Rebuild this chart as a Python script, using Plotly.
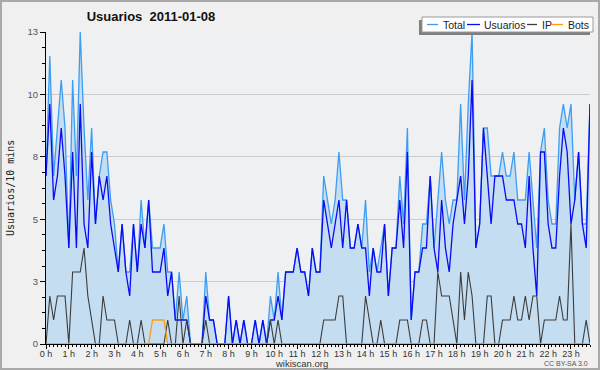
import plotly.graph_objects as go

# ---- data (10-minute intervals, 2011-01-08) ----
usuarios = [7, 10, 6, 7, 9, 7, 4, 8, 4, 10, 5, 4, 8, 5, 7, 6, 7, 5, 4, 3, 5, 3, 2, 5,
            3, 5, 4, 6, 3, 3, 3, 4, 2, 3, 1, 1, 1, 1, 0, 0, 0, 0, 2, 1, 1, 0, 0, 0,
            2, 0, 1, 0, 1, 0, 0, 1, 0, 1, 0, 1, 1, 2, 1, 3, 3, 3, 4, 3, 3, 2, 4, 3,
            3, 6, 5, 4, 5, 6, 4, 6, 4, 4, 5, 4, 4, 2, 4, 3, 3, 5, 2, 4, 4, 6, 4, 8,
            1, 3, 3, 4, 4, 7, 4, 3, 6, 4, 3, 5, 6, 7, 5, 7, 11, 4, 5, 9, 7, 5, 7, 7,
            7, 6, 6, 6, 5, 5, 4, 7, 4, 2, 8, 8, 5, 4, 4, 7, 9, 8, 5, 6, 8, 5, 4, 10]
ip = [0, 2, 1, 2, 2, 2, 0, 3, 3, 3, 4, 2, 1, 0, 0, 2, 1, 1, 1, 0, 0, 0, 1, 0,
      0, 1, 0, 0, 0, 0, 0, 0, 1, 0, 0, 2, 0, 1, 0, 0, 0, 0, 1, 0, 0, 0, 0, 0,
      0, 0, 0, 0, 0, 0, 0, 0, 0, 0, 0, 1, 0, 1, 0, 0, 0, 0, 0, 0, 0, 0, 0, 0,
      0, 1, 1, 1, 1, 2, 2, 0, 0, 0, 0, 0, 2, 1, 0, 0, 1, 0, 0, 0, 0, 1, 1, 1,
      0, 0, 0, 1, 1, 0, 0, 3, 2, 2, 2, 1, 0, 3, 1, 3, 2, 0, 0, 0, 2, 2, 0, 0,
      1, 1, 1, 2, 1, 1, 2, 1, 2, 2, 0, 1, 1, 1, 1, 2, 1, 1, 5, 0, 0, 0, 1, 0]
bots = [0, 0, 0, 0, 0, 0, 0, 0, 0, 0, 0, 0, 0, 0, 0, 0, 0, 0, 0, 0, 0, 0, 0, 0,
        0, 0, 0, 0, 1, 1, 1, 1, 0, 0, 0, 0, 0, 0, 0, 0, 0, 0, 0, 0, 0, 0, 0, 0,
        0, 0, 0, 0, 0, 0, 0, 0, 0, 0, 0, 0, 0, 0, 0, 0, 0, 0, 0, 0, 0, 0, 0, 0,
        0, 0, 0, 0, 0, 0, 0, 0, 0, 0, 0, 0, 0, 0, 0, 0, 0, 0, 0, 0, 0, 0, 0, 0,
        0, 0, 0, 0, 0, 0, 0, 0, 0, 0, 0, 0, 0, 0, 0, 0, 0, 0, 0, 0, 0, 0, 0, 0,
        0, 0, 0, 0, 0, 0, 0, 0, 0, 0, 0, 0, 0, 0, 0, 0, 0, 0, 0, 0, 0, 0, 0, 0]
total = [7, 12, 7, 9, 11, 9, 4, 11, 7, 13, 9, 6, 9, 5, 7, 8, 8, 6, 5, 3, 5, 3, 3, 5,
         3, 6, 4, 6, 4, 4, 4, 5, 3, 3, 1, 3, 1, 2, 0, 0, 0, 0, 3, 1, 1, 0, 0, 0,
         2, 0, 1, 0, 1, 0, 0, 1, 0, 1, 0, 2, 1, 3, 1, 3, 3, 3, 4, 3, 3, 2, 4, 3,
         3, 7, 6, 5, 6, 8, 6, 6, 4, 4, 5, 4, 6, 3, 4, 3, 4, 5, 2, 4, 4, 7, 5, 9,
         1, 3, 3, 5, 5, 7, 4, 6, 8, 6, 5, 6, 6, 10, 6, 10, 13, 4, 5, 9, 9, 7, 7, 7,
         8, 7, 7, 8, 6, 6, 6, 8, 6, 4, 8, 9, 6, 5, 5, 9, 10, 9, 10, 6, 8, 5, 5, 10]

hour_labels = [f"{h} h" for h in range(24)]
y_tick_labels = ["0", "3", "5", "8", "10", "13"]
series_names = ["Total", "Usuarios", "IP", "Bots"]

# ---- styling ----
C_TOTAL = "#3d9df2"
C_USER = "#0a0af5"
C_IP = "#3c3c3c"
C_BOTS = "#ff9a10"
FILL = "rgb(197,221,241)"

t = [i / 6 for i in range(len(total))]
y_ticks = [13 * k / 5 for k in range(6)]

W, H = 600, 370
L, R, T, B = 46, 10, 32, 26
PW, PH = W - L - R, H - T - B


def px(x):
    return (x - L) / PW


def py(y):
    return (H - B - y) / PH


fig = go.Figure()
fig.add_trace(go.Scatter(x=t, y=total, name=series_names[0], mode="lines",
                         line=dict(color=C_TOTAL, width=1.3),
                         fill="tozeroy", fillcolor=FILL, showlegend=False))
fig.add_trace(go.Scatter(x=t, y=usuarios, name=series_names[1], mode="lines",
                         line=dict(color=C_USER, width=1.3), showlegend=False))
fig.add_trace(go.Scatter(x=t, y=ip, name=series_names[2], mode="lines",
                         line=dict(color=C_IP, width=1.1), showlegend=False))
fig.add_trace(go.Scatter(x=t, y=bots, name=series_names[3], mode="lines",
                         line=dict(color=C_BOTS, width=1.3), showlegend=False))

shapes = []
annotations = []

# outer frame
shapes.append(dict(type="rect", xref="paper", yref="paper",
                   x0=px(1), x1=px(599), y0=py(369), y1=py(1),
                   line=dict(color="#a9a9a9", width=2), fillcolor="rgba(0,0,0,0)",
                   layer="above"))

# legend (drawn manually to match compact layout)
shapes.append(dict(type="rect", xref="paper", yref="paper",
                   x0=px(419), x1=px(590), y0=py(35), y1=py(20),
                   line=dict(width=0), fillcolor="#7f7f7f", layer="above"))
shapes.append(dict(type="rect", xref="paper", yref="paper",
                   x0=px(422), x1=px(593), y0=py(32), y1=py(17),
                   line=dict(color="#9a9a9a", width=1), fillcolor="white", layer="above"))
leg_lines = [(427, 438, C_TOTAL), (467, 480, C_USER), (527, 537, C_IP), (552, 563, C_BOTS)]
leg_text_x = [442, 483, 541, 567]
for (a, b, c), tx, name in zip(leg_lines, leg_text_x, series_names):
    shapes.append(dict(type="line", xref="paper", yref="paper",
                       x0=px(a), x1=px(b), y0=py(24.5), y1=py(24.5),
                       line=dict(color=c, width=1.3), layer="above"))
    annotations.append(dict(text=name, xref="paper", yref="paper",
                            x=px(tx), y=py(24.5), xanchor="left", yanchor="middle",
                            showarrow=False, borderpad=0,
                            font=dict(family="Liberation Sans", size=10.5, color="#222")))

# y-axis title
annotations.append(dict(text="Usuarios/10 mins", xref="paper", yref="paper",
                        x=px(10), y=py(188), textangle=-90, showarrow=False,
                        xanchor="center", yanchor="middle",
                        font=dict(family="DejaVu Sans Mono", size=10, color="#222")))
# footer texts
annotations.append(dict(text="wikiscan.org", xref="paper", yref="paper",
                        x=px(301), y=py(363), showarrow=False, borderpad=0,
                        xanchor="center", yanchor="middle",
                        font=dict(family="Liberation Sans", size=9.5, color="#333")))
annotations.append(dict(text="CC BY-SA 3.0", xref="paper", yref="paper",
                        x=px(589), y=py(363.5), showarrow=False, borderpad=0,
                        xanchor="right", yanchor="middle",
                        font=dict(family="Liberation Sans", size=7, color="#555")))

fig.update_layout(
    width=W, height=H, autosize=False,
    margin=dict(l=L, r=R, t=T, b=B, pad=0),
    paper_bgcolor="#f0f0f0", plot_bgcolor="#eef0f2",
    title=dict(text="Usuarios\u00a0 2011-01-08", xref="container", yref="container",
               x=151 / W, y=1 - 16 / H, xanchor="center", yanchor="middle",
               font=dict(family="Liberation Sans", size=13, color="#111", weight="bold")),
    showlegend=False,
    shapes=shapes, annotations=annotations,
    xaxis=dict(range=[0, t[-1]], showgrid=False, zeroline=False,
               showline=True, linecolor="black", linewidth=1,
               ticks="outside", ticklen=4, tickcolor="black", tickwidth=1,
               tickmode="array", tickvals=list(range(24)), ticktext=hour_labels,
               ticklabelstandoff=-3,
               tickfont=dict(family="Liberation Sans", size=9, color="#333"),
               minor=dict(ticks="outside", ticklen=2, tickcolor="black",
                          tickmode="linear", tick0=0, dtick=1 / 6, showgrid=False),
               fixedrange=True),
    yaxis=dict(range=[0, 13], showgrid=True, gridcolor="#cccccc", gridwidth=1,
               zeroline=False, showline=True, linecolor="black", linewidth=1,
               ticks="outside", ticklen=5, tickcolor="black", tickwidth=1,
               tickmode="array", tickvals=y_ticks, ticktext=y_tick_labels,
               tickfont=dict(family="Liberation Sans", size=9.5, color="#555"),
               minor=dict(ticks="outside", ticklen=3, tickcolor="black",
                          tickmode="linear", tick0=0, dtick=0.65, showgrid=False),
               fixedrange=True),
)

fig.write_html("out.html", config={"displayModeBar": False},
               post_script="document.body.style.margin='0';document.body.style.padding='0';"
                           "document.body.style.overflow='hidden';")
